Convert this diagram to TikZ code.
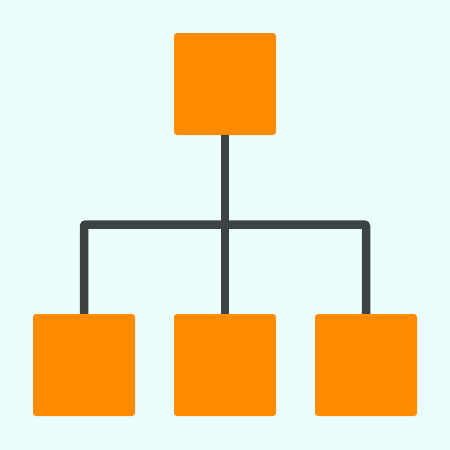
\documentclass[tikz,border=0pt]{standalone}
\usetikzlibrary{positioning}
\definecolor{bgcyan}{HTML}{EAFEFE}
\definecolor{boxorange}{HTML}{FF8C00}
\definecolor{linkgray}{HTML}{3D4343}

\begin{document}
\begin{tikzpicture}[x=1pt, y=-1pt,
        box/.style={fill=boxorange, rounded corners=3pt, minimum size=102pt, inner sep=0pt},
        link/.style={draw=linkgray, line width=8.5pt}]
    \fill[bgcyan] (0,0) rectangle (450,450);
    \node[box] (root) at (225,84) {};
    \node[box] (left) at (84,365) {};
    \node[box] (mid) at (225,365) {};
    \node[box] (right) at (366,365) {};
    \coordinate (bus) at (225,224.5);
    % tree connectors
    \draw[link] (root.south) -- (mid.north);
    \draw[link, rounded corners=2pt] (left.north) |- (bus) -| (right.north);
\end{tikzpicture}
\end{document}
